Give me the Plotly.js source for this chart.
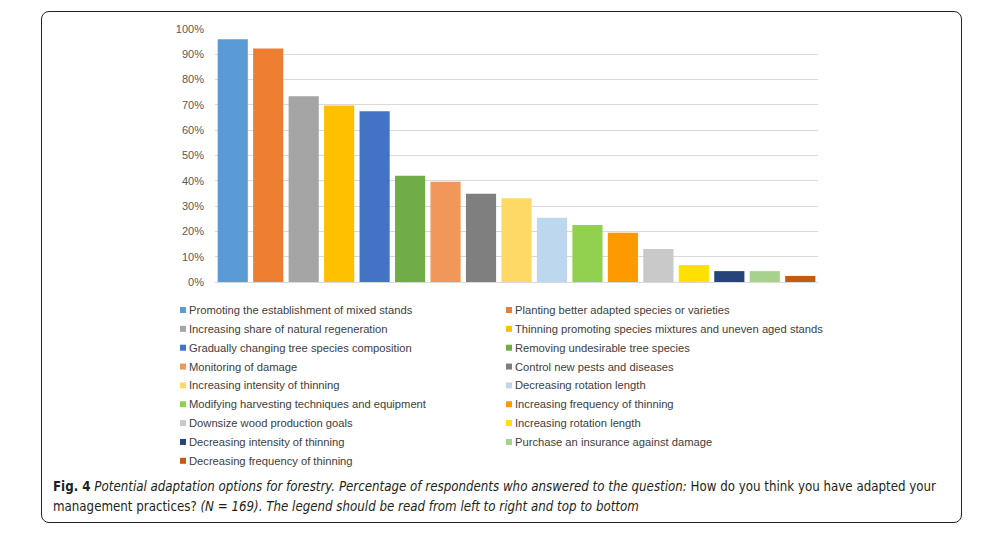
<!DOCTYPE html>
<html>
<head>
<meta charset="utf-8">
<script src="https://cdn.plot.ly/plotly-3.0.1.min.js"></script>
<style>
  body { margin: 0; background: #ffffff; }
  #wrap { position: relative; width: 982px; height: 535px; }
  #chart { position: absolute; left: 0; top: 0; width: 982px; height: 535px; }
  #frame { position: absolute; left: 41px; top: 11px; width: 919px; height: 510px;
           border: 1.5px solid #222; border-radius: 8px; pointer-events: none; }
</style>
</head>
<body>
<div id="wrap">
  <div id="chart"></div>
  <div id="frame"></div>
</div>
<script>
const categories = [
  "Promoting the establishment of mixed stands",
  "Planting better adapted species or varieties",
  "Increasing share of natural regeneration",
  "Thinning promoting species mixtures and uneven aged stands",
  "Gradually changing tree species composition",
  "Removing undesirable tree species",
  "Monitoring of damage",
  "Control new pests and diseases",
  "Increasing intensity of thinning",
  "Decreasing rotation length",
  "Modifying harvesting techniques and equipment",
  "Increasing frequency of thinning",
  "Downsize wood production goals",
  "Increasing rotation length",
  "Decreasing intensity of thinning",
  "Purchase an insurance against damage",
  "Decreasing frequency of thinning"
];
const shares = [0.959, 0.923, 0.734, 0.698, 0.675, 0.420, 0.396, 0.349, 0.331, 0.254, 0.225, 0.195, 0.130, 0.067, 0.043, 0.043, 0.024];
const colors = ["#5B9BD5", "#ED7D31", "#A5A5A5", "#FFC000", "#4472C4", "#70AD47", "#F1975A", "#7F7F7F",
                "#FFD966", "#BDD7EE", "#92D050", "#FF9900", "#C9C9C9", "#FFE000", "#264478", "#A9D18E", "#C55A11"];
const yTickVals = [0, 0.1, 0.2, 0.3, 0.4, 0.5, 0.6, 0.7, 0.8, 0.9, 1.0];
const yTickText = ["0%", "10%", "20%", "30%", "40%", "50%", "60%", "70%", "80%", "90%", "100%"];

// plot area in pixels
const L = 215, R = 818, T = 29, B = 282;
const px2x = p => (p - L) / (R - L);
const px2y = p => (B - p) / (B - T);

const shapes = [];
const annotations = [];
categories.forEach((c, i) => {
  const col = i % 2, row = Math.floor(i / 2);
  const mx = col === 0 ? 180 : 506;
  const cy = 310 + row * 18.85;
  shapes.push({
    type: "rect", xref: "paper", yref: "paper",
    x0: px2x(mx), x1: px2x(mx + 6), y0: px2y(cy + 3), y1: px2y(cy - 3),
    fillcolor: colors[i], line: { width: 0 }
  });
  annotations.push({
    xref: "paper", yref: "paper", x: px2x(mx + 7), y: px2y(cy),
    xanchor: "left", yanchor: "middle", showarrow: false,
    text: c, font: { family: "Liberation Sans, Arial, sans-serif", size: 11.2, color: "#404040" }
  });
});

const capFont = { family: "DejaVu Sans Condensed, sans-serif", size: 13.2, color: "#231F20" };
annotations.push({
  xref: "paper", yref: "paper", x: px2x(51), y: px2y(486), xanchor: "left", yanchor: "middle",
  showarrow: false, align: "left", font: capFont,
  text: "<b>Fig. 4</b> <i>Potential adaptation options for forestry. Percentage of respondents who answered to the question:</i> How do you think you have adapted your"
});
annotations.push({
  xref: "paper", yref: "paper", x: px2x(51), y: px2y(506), xanchor: "left", yanchor: "middle",
  showarrow: false, align: "left", font: capFont,
  text: "management practices? <i>(N = 169). The legend should be read from left to right and top to bottom</i>"
});

const trace = {
  type: "bar", x: categories, y: shares,
  marker: { color: colors, line: { width: 0 } },
  showlegend: false, hoverinfo: "x+y"
};

const layout = {
  width: 982, height: 535,
  margin: { l: L, r: 982 - R, t: T, b: 535 - B, pad: 0 },
  paper_bgcolor: "#ffffff", plot_bgcolor: "#ffffff",
  bargap: 0.15,
  font: { family: "Liberation Sans, Arial, sans-serif", size: 11, color: "#595959" },
  xaxis: { showticklabels: false, ticks: "", showgrid: false, zeroline: false,
           showline: true, linecolor: "#D9D9D9", linewidth: 1, fixedrange: true },
  yaxis: { range: [0, 1.0], tickvals: yTickVals, ticktext: yTickText, showgrid: true,
           gridcolor: "#D9D9D9", gridwidth: 1, zeroline: false, showline: false, ticks: "",
           ticklabelstandoff: 10, tickfont: { size: 11, color: "#595959" }, fixedrange: true },
  shapes: shapes,
  annotations: annotations
};

Plotly.newPlot("chart", [trace], layout, { displayModeBar: false, staticPlot: true });
</script>
</body>
</html>
